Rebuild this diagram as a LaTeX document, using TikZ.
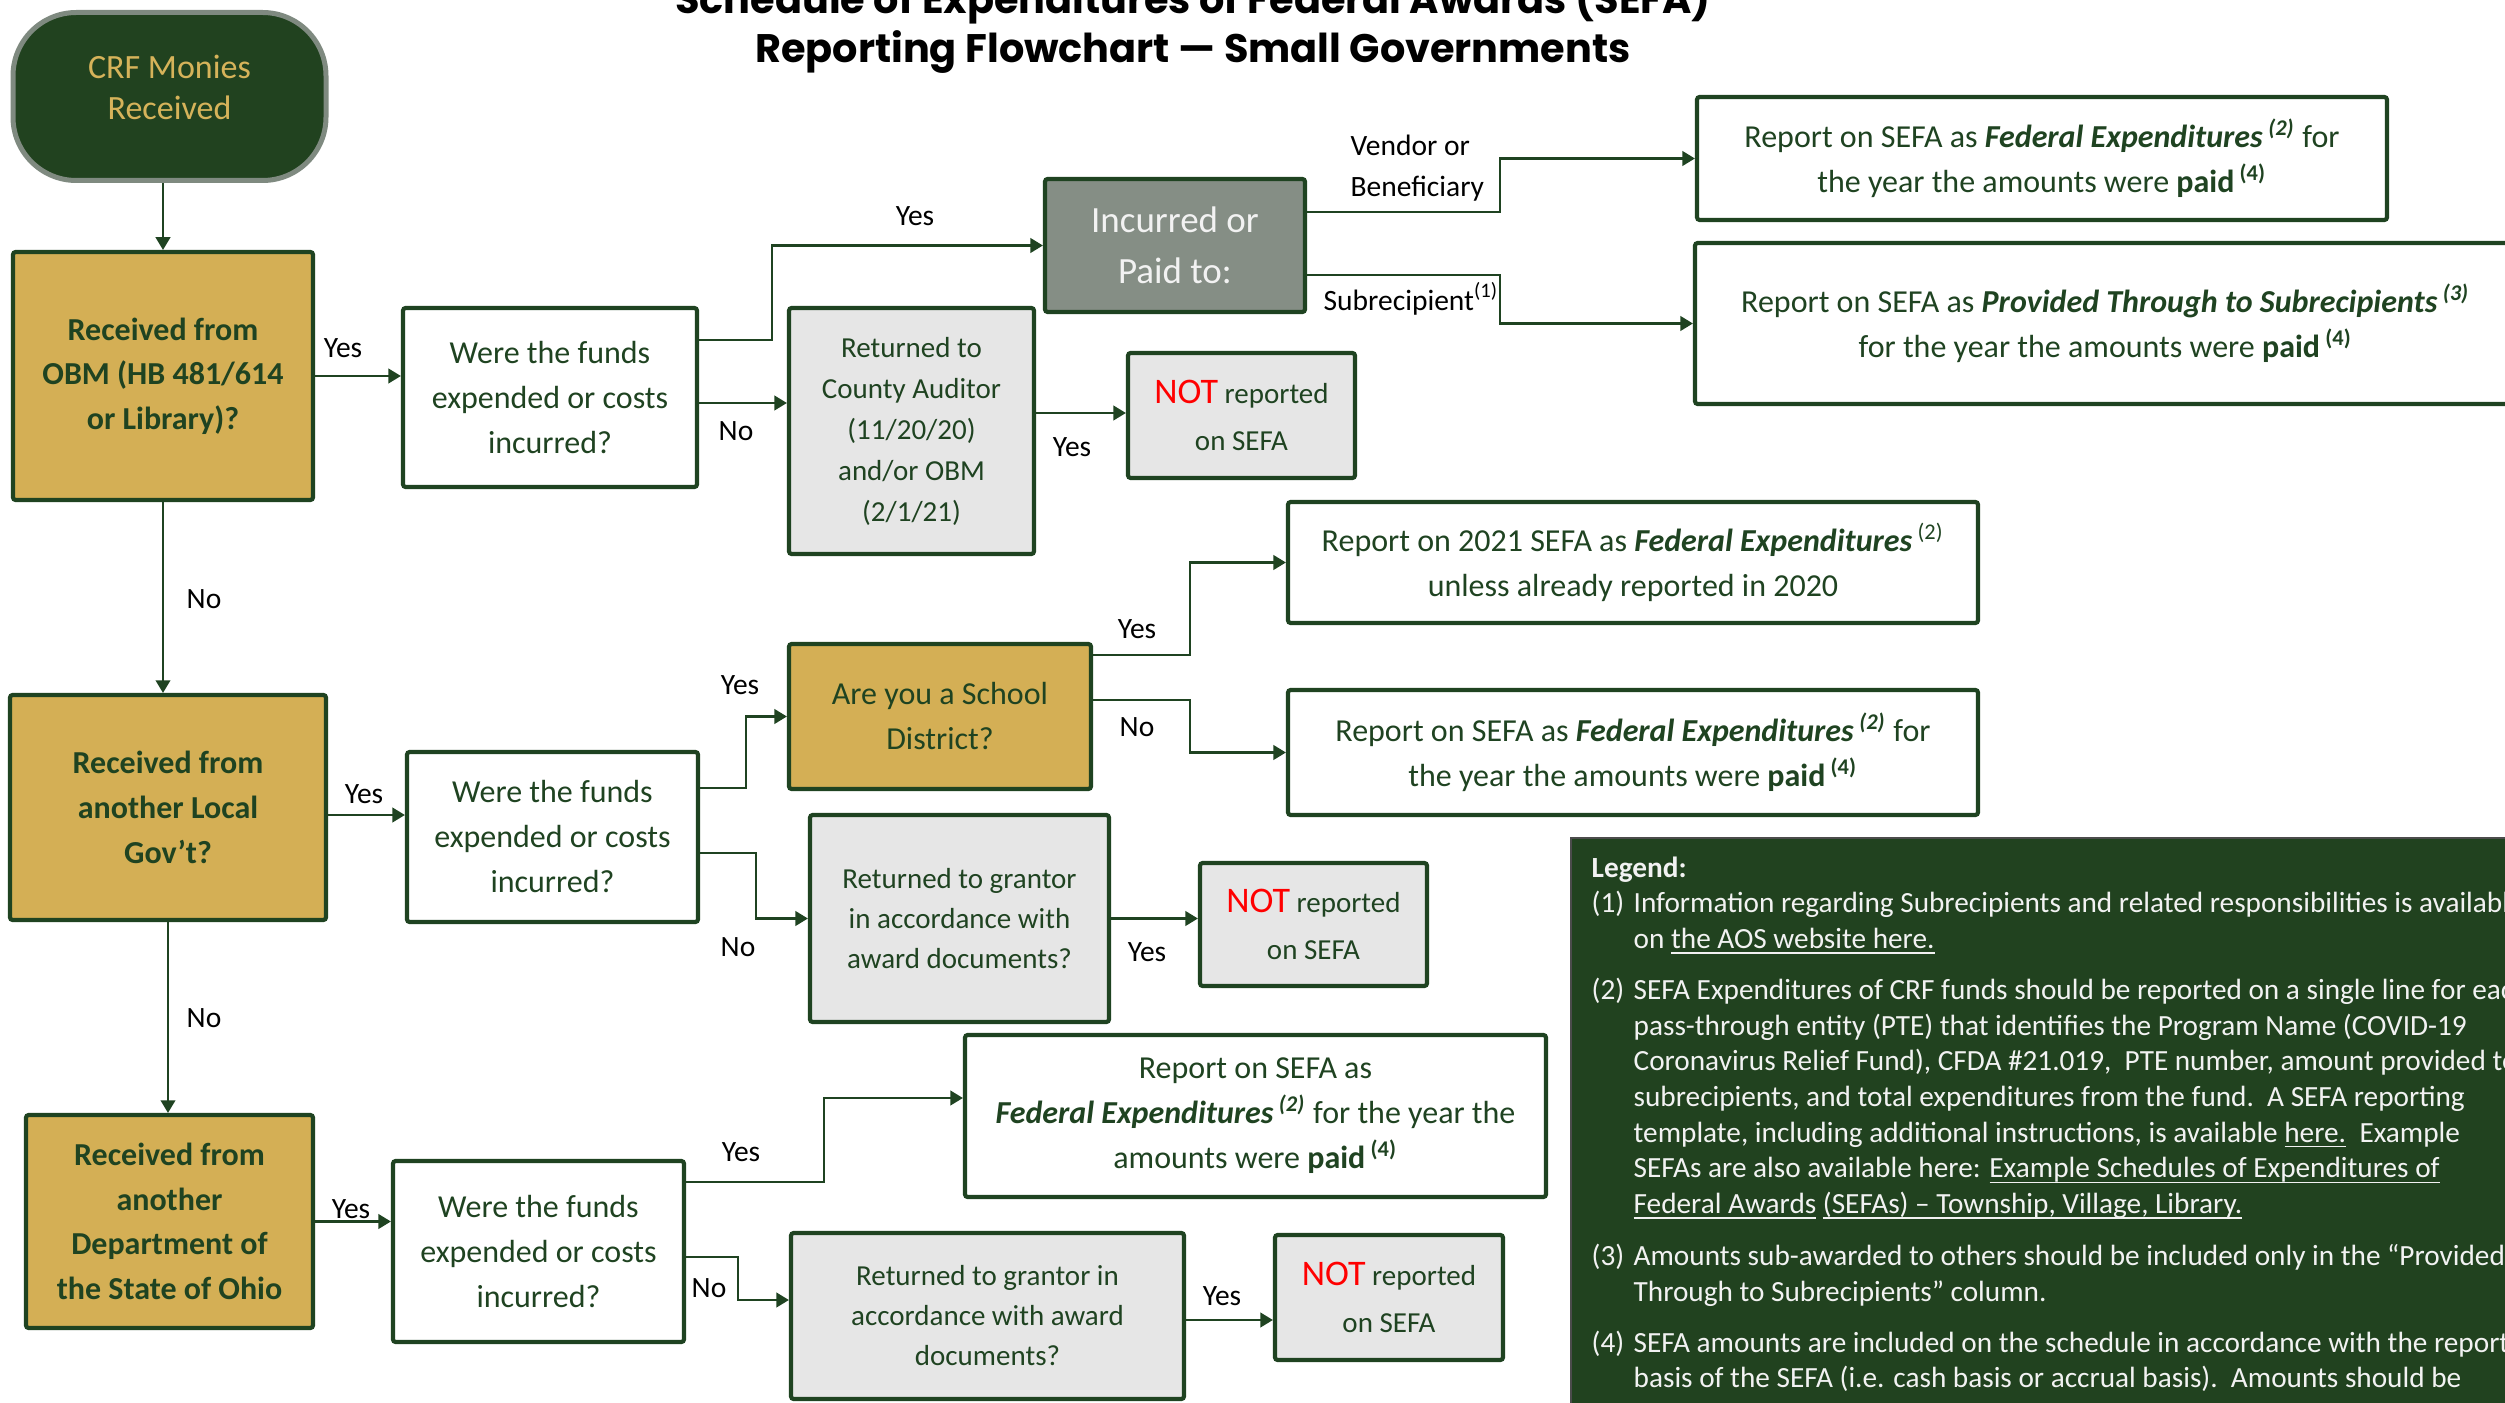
\documentclass[tikz,border=0pt]{standalone}
\usepackage{fontspec}
\setmainfont{Carlito}
\newfontfamily\titlefont{Poppins}
\usetikzlibrary{arrows.meta}
\definecolor{dkg}{HTML}{1F4321}
\definecolor{goldfill}{HTML}{D4AF55}
\definecolor{midgray}{HTML}{858E85}
\definecolor{ltgray}{HTML}{E6E6E6}
\definecolor{legbg}{HTML}{21421F}
\definecolor{crfgray}{HTML}{7F8A80}
\definecolor{goldtxt}{HTML}{D6B35A}
\definecolor{notred}{HTML}{FF0000}
\newcommand\legul[1]{\underline{\smash{#1}}}
\begin{document}
\begin{tikzpicture}[x=0.3pt,y=-0.3pt,
  sz/.style 2 args={minimum width=#1*0.3pt, minimum height=#2*0.3pt},
  box/.style={draw=dkg, line width=1.25pt, rounded corners=0.8pt, inner sep=0pt, align=center, text=dkg,
    font=\fontsize{9.6pt}{13.5pt}\selectfont},
  wbox/.style={box, fill=white},
  gbox/.style={box, fill=goldfill, font=\fontsize{9.6pt}{13.4pt}\selectfont\bfseries},
  lbox/.style={box, fill=ltgray, font=\fontsize{8.7pt}{12.3pt}\selectfont},
  nbox/.style={box, fill=ltgray, font=\fontsize{8.7pt}{14.1pt}\selectfont},
  lab/.style={font=\fontsize{8.85pt}{12.3pt}\selectfont, text=black, inner sep=0pt},
  arr/.style={draw=dkg, line width=0.75pt, -{Triangle[length=3.8pt,width=4.4pt]}},
  ttl/.style={font=\titlefont\bfseries\fontsize{11.95pt}{14pt}\selectfont, anchor=base, inner sep=0pt},
]
\useasboundingbox (0,0) rectangle (2505,1403);
\clip (0,0) rectangle (2505,1403);

% title
\node[ttl] (title1) at (1193,14) {Schedule of Expenditures of Federal Awards (SEFA)};
\node[ttl] (title2) at (1193,63) {Reporting Flowchart — Small Governments};

% start
\node[draw=crfgray, line width=1.5pt, fill=legbg, rounded corners=19pt, sz={313}{168},
  text=goldtxt, align=center, font=\fontsize{10.2pt}{12.3pt}\selectfont] (crf) at (169.5,96.5) {CRF Monies\\Received\\[-7pt]\mbox{}};

% row 1
\node[gbox, sz={300}{248}] (obm) at (163,376) {Received from\\OBM (HB 481/614\\or Library)?};
\node[wbox, sz={294}{179}] (were1) at (550,397.5) {Were the funds\\expended or costs\\incurred?};
\node[box, fill=midgray, text=white!95!black, font=\fontsize{11.1pt}{15.3pt}\selectfont, sz={260}{133}] (incurred) at (1175,245.5) {Incurred or\\Paid to:};
\node[lbox, sz={245}{246}] (ret1) at (911.5,431) {Returned to\\County Auditor\\(11/20/20)\\and/or OBM\\(2/1/21)};
\node[nbox, sz={227}{125}] (not1) at (1241.5,415.5) {{\color{notred}\fontsize{10.8pt}{13pt}\selectfont NOT} reported\\on SEFA};
\node[wbox, sz={690}{123}] (rep6) at (2042,158.5) {Report on SEFA as \textbf{\textit{Federal Expenditures}}\,\textsuperscript{\textbf{\textit{(2)}}} for\\the year the amounts were \textbf{paid}\,\textsuperscript{\textbf{(4)}}};
\node[wbox, sz={821}{161}] (rep7) at (2105.5,323.5) {Report on SEFA as \textbf{\textit{Provided Through to Subrecipients}}\,\textsuperscript{\textbf{\textit{(3)}}}\\for the year the amounts were \textbf{paid}\,\textsuperscript{\textbf{(4)}}};

% row 2
\node[wbox, sz={690}{121}] (rep8) at (1633,562.5) {Report on 2021 SEFA as \textbf{\textit{Federal Expenditures}}\,\textsuperscript{(2)}\\unless already reported in 2020};
\node[box, fill=goldfill, sz={302}{145}] (school) at (940,716.5) {Are you a School\\District?};
\node[wbox, sz={690}{125}] (rep10) at (1633,752.5) {Report on SEFA as \textbf{\textit{Federal Expenditures}}\,\textsuperscript{\textbf{\textit{(2)}}} for\\the year the amounts were \textbf{paid}\,\textsuperscript{\textbf{(4)}}};
\node[gbox, sz={316}{225}] (local) at (168,807.5) {Received from\\another Local\\Gov’t?};
\node[wbox, sz={291}{170}] (were2) at (552.5,837) {Were the funds\\expended or costs\\incurred?};
\node[lbox, font=\fontsize{8.7pt}{12pt}\selectfont, sz={299}{207}] (ret2) at (959.5,918.5) {Returned to grantor\\in accordance with\\award documents?};
\node[nbox, sz={227}{123}] (not2) at (1313.5,924.5) {{\color{notred}\fontsize{10.8pt}{13pt}\selectfont NOT} reported\\on SEFA};

% legend
\node[fill=legbg, draw=black!70, line width=0.5pt, anchor=north west, minimum width=290pt, minimum height=180pt, inner sep=0pt] (legend) at (1570,837) {};
\node[anchor=base west, inner sep=0pt, text=white!95!black, font=\fontsize{8.78pt}{10.7pt}\selectfont] (legtext) at (1591,877) {%
\begin{tabular}[t]{@{}p{12.6pt}@{}l@{}}
\multicolumn{2}{@{}l}{\textbf{Legend:}}\\
(1) & Information regarding Subrecipients and related responsibilities is available\\
 & on \legul{the AOS website here.}\\[4.6pt]
(2) & SEFA Expenditures of CRF funds should be reported on a single line for each\\
 & pass-through entity (PTE) that identifies the Program Name (COVID-19\\
 & Coronavirus Relief Fund), CFDA \#21.019,\ \ PTE number, amount provided to\\
 & subrecipients, and total expenditures from the fund.\ \ A SEFA reporting\\
 & template, including additional instructions, is available \legul{here.}\ \ Example\\
 & SEFAs are also available here: \legul{Example Schedules of Expenditures of}\\
 & \legul{Federal Awards} \legul{(SEFAs) – Township, Village, Library.}\\[5pt]
(3) & Amounts sub-awarded to others should be included only in the “Provided\\
 & Through to Subrecipients” column.\\[4.6pt]
(4) & SEFA amounts are included on the schedule in accordance with the reporting\\
 & basis of the SEFA (i.e. cash basis or accrual basis).\ \ Amounts should be
\end{tabular}};

% row 3
\node[gbox, sz={287}{213}] (state) at (169.5,1221.5) {Received from\\another\\Department of\\the State of Ohio};
\node[wbox, sz={291}{181}] (were3) at (538.5,1251.5) {Were the funds\\expended or costs\\incurred?};
\node[wbox, sz={581}{162}] (rep18) at (1255.5,1116) {Report on SEFA as\\\textbf{\textit{Federal Expenditures}}\,\textsuperscript{\textbf{\textit{(2)}}} for the year the\\amounts were \textbf{paid}\,\textsuperscript{\textbf{(4)}}};
\node[lbox, font=\fontsize{8.7pt}{12pt}\selectfont, sz={393}{166}] (ret3) at (987.5,1316) {Returned to grantor in\\accordance with award\\documents?};
\node[nbox, sz={228}{125}] (not3) at (1389,1297.5) {{\color{notred}\fontsize{10.8pt}{13pt}\selectfont NOT} reported\\on SEFA};

% bend coordinates
\coordinate (bx1) at (772,0);
\coordinate (bx2) at (1500,0);
\coordinate (bx3) at (746,0);
\coordinate (bx4) at (756,0);
\coordinate (bx5) at (1190,0);
\coordinate (bx6) at (824,0);
\coordinate (bx7) at (738,0);

% connectors: vertical spine
\draw[arr, line width=0.6pt] (crf.south -| obm.north) -- (obm.north);
\draw[arr, line width=0.6pt] (obm.south) -- (obm.south |- local.north);
\draw[arr, line width=0.6pt] (local.south) -- (local.south |- state.north);
\node[lab] (no1) at (204,599) {No};
\node[lab] (no2) at (204,1018) {No};

% row 1 connectors
\draw[arr] (obm.east) -- (obm.east -| were1.west);
\node[lab] (yes1) at (343,348) {Yes};
\coordinate (s1) at ([yshift=17.25pt]were1.east);
\draw[arr] (s1) -- (s1 -| bx1) |- (incurred.west);
\node[lab] (yes2) at (915,216) {Yes};
\coordinate (s2) at ([yshift=-1.65pt]were1.east);
\draw[arr] (s2) -- (s2 -| ret1.west);
\node[lab] (no3) at (736,431) {No};
\coordinate (s3) at ([yshift=5.4pt]ret1.east);
\draw[arr] (s3) -- (s3 -| not1.west);
\node[lab] (yes3) at (1072,447) {Yes};
\coordinate (s4) at ([yshift=10.05pt]incurred.east);
\draw[arr] (s4) -- (s4 -| bx2) |- (rep6.west);
\node[lab, align=left, anchor=west] (vend) at (1350,168) {Vendor or\\Beneficiary};
\coordinate (s5) at ([yshift=-8.85pt]incurred.east);
\draw[arr] (s5) -- (s5 -| bx2) |- (rep7.west);
\node[lab, anchor=west] (subr) at (1323,299) {Subrecipient\textsuperscript{(1)}};

% row 2 connectors
\coordinate (s6) at ([yshift=-2.25pt]local.east);
\draw[arr] (s6) -- (s6 -| were2.west);
\node[lab] (yes4) at (364,794) {Yes};
\coordinate (s7) at ([yshift=14.7pt]were2.east);
\draw[arr] (s7) -- (s7 -| bx3) |- (school.west);
\node[lab] (yes5) at (740,685) {Yes};
\coordinate (s8) at ([yshift=-4.8pt]were2.east);
\draw[arr] (s8) -- (s8 -| bx4) |- (ret2.west);
\node[lab] (no4) at (738,947) {No};
\coordinate (s9) at ([yshift=18.45pt]school.east);
\draw[arr] (s9) -- (s9 -| bx5) |- (rep8.west);
\node[lab] (yes6) at (1137,629) {Yes};
\coordinate (s10) at ([yshift=4.95pt]school.east);
\draw[arr] (s10) -- (s10 -| bx5) |- (rep10.west);
\node[lab] (no5) at (1137,727) {No};
\draw[arr] (ret2.east) -- (ret2.east -| not2.west);
\node[lab] (yes7) at (1147,952) {Yes};

% row 3 connectors
\draw[arr] (state.east) -- (state.east -| were3.west);
\node[lab] (yes8) at (351,1209) {Yes};
\coordinate (s11) at ([yshift=20.85pt]were3.east);
\draw[arr] (s11) -- (s11 -| bx6) |- ([yshift=5.4pt]rep18.west);
\node[lab] (yes9) at (741,1152) {Yes};
\coordinate (s12) at ([yshift=-1.65pt]were3.east);
\draw[arr] (s12) -- (s12 -| bx7) |- ([yshift=4.8pt]ret3.west);
\node[lab] (no6) at (709,1288) {No};
\coordinate (s13) at ([yshift=-1.2pt]ret3.east);
\draw[arr] (s13) -- (s13 -| not3.west);
\node[lab] (yes10) at (1222,1296) {Yes};
\end{tikzpicture}
\end{document}
